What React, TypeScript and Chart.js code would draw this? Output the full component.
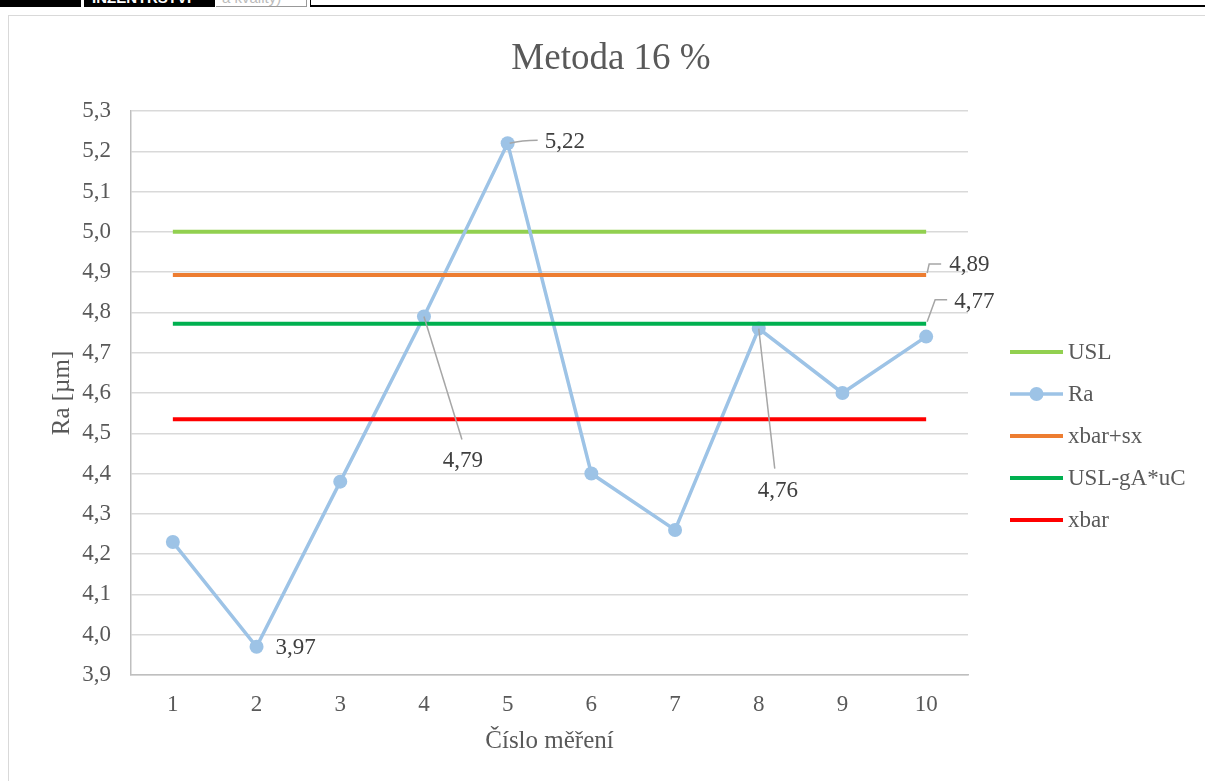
import React, { useEffect, useRef } from "react";
import { Chart, registerables } from "chart.js";

Chart.register(...registerables);

const categories = ["1", "2", "3", "4", "5", "6", "7", "8", "9", "10"];
const raValues = [4.23, 3.97, 4.38, 4.79, 5.22, 4.4, 4.26, 4.76, 4.6, 4.74];
const uslValue = 5.0;
const xbarSxValue = 4.893;
const uslGaUcValue = 4.772;
const xbarValue = 4.535;
const yTicks = [3.9, 4.0, 4.1, 4.2, 4.3, 4.4, 4.5, 4.6, 4.7, 4.8, 4.9, 5.0, 5.1, 5.2, 5.3];

const seriesNames = ["USL", "Ra", "xbar+sx", "USL-gA*uC", "xbar"];
const seriesColors = ["#92D050", "#9DC3E6", "#ED7D31", "#00B050", "#FF0000"];

const chartTitle = "Metoda 16 %";
const xTitle = "Číslo měření";
const yTitle = "Ra [µm]";

const FONT = "'Liberation Serif', 'Times New Roman', serif";
const TEXT = "#595959";

// label placement: dataset, index, text offset, leader style
type LabelSpec = { ds: number; idx: number; dx: number; dy: number; align: CanvasTextAlign; leader: "none" | "straight" | "elbow" | "curve"; lx?: number; ly?: number; ex?: number };
const labelSpecs: LabelSpec[] = [
  { ds: 1, idx: 1, dx: 19, dy: 1, align: "left", leader: "none" },
  { ds: 1, idx: 4, dx: 37, dy: -1, align: "left", leader: "curve", lx: 30, ly: -3 },
  { ds: 1, idx: 3, dx: 39, dy: 144, align: "center", leader: "straight", lx: 38, ly: 123 },
  { ds: 1, idx: 7, dx: 19, dy: 162, align: "center", leader: "straight", lx: 16, ly: 140 },
  { ds: 2, idx: 9, dx: 23, dy: -10, align: "left", leader: "elbow", lx: 3, ly: -11, ex: 15 },
  { ds: 3, idx: 9, dx: 28, dy: -22, align: "left", leader: "elbow", lx: 9, ly: -24, ex: 21 },
];

const fmt = (v: number, d: number) => v.toFixed(d).replace(".", ",");

const decoPlugin = {
  id: "deco",
  afterDatasetsDraw(chart: any) {
    const ctx = chart.ctx as CanvasRenderingContext2D;
    const area = chart.chartArea;
    ctx.save();
    // data labels
    ctx.font = `23px ${FONT}`;
    ctx.textBaseline = "middle";
    labelSpecs.forEach((s) => {
      const meta = chart.getDatasetMeta(s.ds);
      const el = meta.data[s.idx];
      if (!el) return;
      const px = el.x;
      const py = el.y;
      const val = chart.data.datasets[s.ds].data[s.idx] as number;
      ctx.strokeStyle = "#A6A6A6";
      ctx.lineWidth = 1.5;
      if (s.leader === "straight") {
        ctx.beginPath();
        ctx.moveTo(px, py);
        ctx.lineTo(px + (s.lx || 0), py + (s.ly || 0));
        ctx.stroke();
      } else if (s.leader === "curve") {
        ctx.beginPath();
        ctx.moveTo(px + 2, py);
        ctx.quadraticCurveTo(px + 14, py - 3, px + (s.lx || 0), py + (s.ly || 0));
        ctx.stroke();
      } else if (s.leader === "elbow") {
        ctx.beginPath();
        ctx.moveTo(px + 1, py - 2);
        ctx.lineTo(px + (s.lx || 0), py + (s.ly || 0));
        ctx.lineTo(px + (s.ex || 0), py + (s.ly || 0));
        ctx.stroke();
      }
      ctx.fillStyle = "#404040";
      ctx.textAlign = s.align;
      ctx.fillText(fmt(val, 2), px + s.dx, py + s.dy);
    });

    // title
    ctx.fillStyle = TEXT;
    ctx.textAlign = "center";
    ctx.font = `37px ${FONT}`;
    ctx.fillText(chartTitle, 602, 43);
    // x title
    ctx.font = `25px ${FONT}`;
    ctx.fillText(xTitle, (area.left + area.right) / 2, 725);
    // y title
    ctx.save();
    ctx.translate(53, (area.top + area.bottom) / 2);
    ctx.rotate(-Math.PI / 2);
    ctx.fillText(yTitle, 0, 0);
    ctx.restore();

    // legend
    const lx0 = 1001;
    const lx1 = 1054;
    const ly0 = 336;
    const gap = 42;
    ctx.font = `23px ${FONT}`;
    ctx.textAlign = "left";
    seriesNames.forEach((name, i) => {
      const y = ly0 + i * gap;
      ctx.strokeStyle = seriesColors[i];
      ctx.lineWidth = i === 1 ? 3.5 : 4;
      ctx.beginPath();
      ctx.moveTo(lx0, y);
      ctx.lineTo(lx1, y);
      ctx.stroke();
      if (i === 1) {
        ctx.fillStyle = seriesColors[i];
        ctx.beginPath();
        ctx.arc((lx0 + lx1) / 2, y, 7, 0, Math.PI * 2);
        ctx.fill();
      }
      ctx.fillStyle = TEXT;
      ctx.fillText(name, lx1 + 5, y + 1);
    });
    ctx.restore();
  },
};

export default function App() {
  const ref = useRef<HTMLCanvasElement>(null);
  useEffect(() => {
    if (!ref.current) return;
    const constSeries = (v: number) => categories.map(() => v);
    const values = [constSeries(uslValue), raValues, constSeries(xbarSxValue), constSeries(uslGaUcValue), constSeries(xbarValue)];
    const chart = new Chart(ref.current, {
      type: "line",
      data: {
        labels: categories,
        datasets: seriesNames.map((name, i) => ({
          label: name,
          data: values[i],
          borderColor: seriesColors[i],
          backgroundColor: seriesColors[i],
          borderWidth: i === 1 ? 3.5 : 4,
          pointRadius: i === 1 ? 7 : 0,
          pointHoverRadius: i === 1 ? 7 : 0,
          pointBorderWidth: 0,
          tension: 0,
          fill: false,
          order: 5 - i,
        })),
      },
      options: {
        responsive: false,
        animation: false,
        layout: { padding: { top: 95, right: 231, left: 0, bottom: 0 } },
        plugins: { legend: { display: false }, title: { display: false }, tooltip: { enabled: false } },
        scales: {
          x: {
            offset: true,
            grid: { display: false, drawTicks: false },
            border: { display: true, color: "#BFBFBF", width: 1.5 },
            ticks: { color: TEXT, font: { family: FONT, size: 23 }, padding: 16, maxRotation: 0 },
            afterFit: (s: any) => { s.height = 101; },
          },
          y: {
            min: 3.9,
            max: 5.3,
            afterBuildTicks: (s: any) => { s.ticks = yTicks.map((v) => ({ value: v })); },
            grid: { color: "#D9D9D9", lineWidth: 1.5, drawTicks: false },
            border: { display: true, color: "#BFBFBF", width: 1.5 },
            ticks: { color: TEXT, font: { family: FONT, size: 23 }, padding: 20, callback: (v: any) => fmt(Number(v), 1) },
            afterFit: (s: any) => { s.width = 122; },
          },
        },
      },
      plugins: [decoPlugin],
    } as any);
    return () => chart.destroy();
  }, []);

  return (
    <div style={{ position: "absolute", left: 0, top: 0, width: 1205, height: 781, overflow: "hidden", background: "#fff" }}>
      <div style={{ position: "absolute", left: 0, top: 0, width: 81, height: 7, background: "#000" }} />
      <div style={{ position: "absolute", left: 84, top: 0, width: 131, height: 7, background: "#000", overflow: "hidden" }}>
        <div style={{ position: "absolute", left: 8, top: -11, color: "#fff", font: `bold 15px 'Liberation Sans', sans-serif`, whiteSpace: "nowrap" }}>INŽENÝRSTVÍ</div>
      </div>
      <div style={{ position: "absolute", left: 216, top: 0, width: 90, height: 6, borderRight: "1px solid #999", borderBottom: "1px solid #999", overflow: "hidden" }}>
        <div style={{ position: "absolute", left: 6, top: -11, color: "#bbb", font: `15px 'Liberation Sans', sans-serif`, whiteSpace: "nowrap" }}>a kvality)</div>
      </div>
      <div style={{ position: "absolute", left: 310, top: 0, width: 1, height: 7, background: "#000" }} />
      <div style={{ position: "absolute", left: 310, top: 5, width: 900, height: 2, background: "#000" }} />
      <div style={{ position: "absolute", left: 8, top: 15, width: 1220, height: 800, border: "1px solid #D9D9D9", boxSizing: "border-box" }}>
        <canvas ref={ref} width={1190} height={760} style={{ position: "absolute", left: 0, top: 0, width: 1190, height: 760 }} />
      </div>
    </div>
  );
}
